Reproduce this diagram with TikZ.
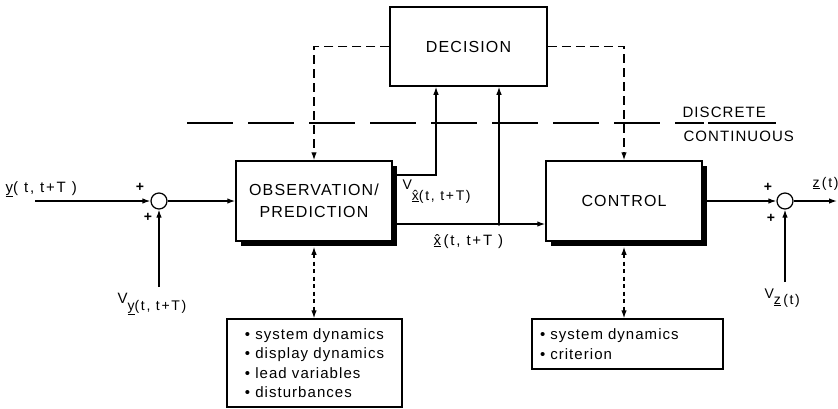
\documentclass[tikz,border=0pt]{standalone}
\usepackage{fontspec}
\setmainfont{Liberation Sans}
\newfontfamily\spfont[LetterSpace=7]{Liberation Sans}
\newfontfamily\wfont[LetterSpace=12]{Liberation Sans}
\usetikzlibrary{arrows.meta,shadows,calc}
\newcommand\xht{\ooalign{x\cr\hidewidth ˆ\hidewidth\cr}}
\begin{document}
\begin{tikzpicture}[x=1pt,y=-1pt,line width=1.25pt,
 >={Latex[length=8pt,width=5.5pt]},
 blk/.style={draw,line width=1.5pt,fill=white,minimum width=156pt,minimum height=80pt,inner sep=0pt,align=center,font=\spfont\fontsize{16}{22}\selectfont},
 shad/.style={blk,drop shadow={shadow xshift=5pt,shadow yshift=-5pt,opacity=1,fill=black}},
 sumc/.style={circle,draw,fill=white,minimum size=16pt,inner sep=0pt},
 ctrl/.style={dash pattern=on 9pt off 5pt},
 info/.style={dash pattern=on 4pt off 3.5pt},
 lbl/.style={inner sep=0pt,font=\wfont\fontsize{15}{16}\selectfont},
 sml/.style={inner sep=0pt,font=\wfont\fontsize{14}{15}\selectfont},
 pls/.style={inner sep=0pt,font=\fontsize{14}{14}\selectfont\bfseries},
 lst/.style={draw,line width=1.4pt,align=left,font=\spfont\fontsize{15}{19.5}\selectfont},
 div/.style={inner sep=0pt,font=\spfont\fontsize{15}{16}\selectfont}
]
\useasboundingbox (0,0) rectangle (838,408);

% blocks
\node[blk,minimum width=157pt,minimum height=79pt] (dec) at (468.5,46.5) {DECISION};
\node[shad] (obs) at (314,201) {OBSERVATION/\\PREDICTION};
\node[shad] (ctl) at (624,201) {CONTROL};
\node[sumc] (s1) at (159,201) {};
\node[sumc] (s2) at (785,201) {};
\node[lst,minimum width=175pt,minimum height=88pt] (b1) at (314.5,363)
  {• system dynamics\\• display dynamics\\• lead variables\\• disturbances};
\node[lst,text width=175pt,inner xsep=8pt,minimum height=50pt] (b2) at (627.5,344)
  {• system dynamics\\• criterion};

% coordinates
\coordinate (yin) at (35,201);
\coordinate (vy) at (159,287);
\coordinate (vz) at (785,282);
\coordinate (zout) at (837,201);
\coordinate (jn) at (499,224);
\coordinate (vo) at (436,175);
\coordinate (dl1) at (187,123);
\coordinate (dl2) at (704,123);
\coordinate (dl3) at (708,123);
\coordinate (dl4) at (776,123);

% signal connectors
\draw[->] (yin) -- (s1.west);
\draw[->] (vy) -- (s1.south);
\draw[->] (s1.east) -- (obs.west |- s1.east);
\draw[->] (obs.east |- jn) -- (ctl.west |- jn);
\fill (jn) circle (1.8pt);
\draw[->] (jn) -- (jn |- dec.south);
\draw[->] (obs.east |- vo) -- (vo) -- (vo |- dec.south);
\draw[->] (ctl.east) -- (s2.west);
\draw[->] (s2.east) -- (zout);
\draw[->] (vz) -- (s2.south);

% decision (dashed) connectors
\draw[->,ctrl] (dec.west) -| (obs.north);
\draw[->,ctrl] (dec.east) -| (ctl.north);

% information connectors
\draw[<->,info] ([yshift=-5pt]obs.south) -- (obs.south |- b1.north);
\draw[<->,info] ([yshift=-5pt]ctl.south) -- (ctl.south |- b2.north);

% discrete / continuous divider
\draw[dash pattern=on 46pt off 15pt] (dl1) -- (dl2);
\draw (dl3) -- (dl4);
\node[div,anchor=west] (dis) at (682,112) {DISCRETE};
\node[div,anchor=west] (con) at (683,136) {CONTINUOUS};

% labels
\node[lbl,anchor=base west] (ylab) at (5,192) {\underline{y}( t, t+T )};
\node[pls] (p1) at (140,187) {+};
\node[pls] (p2) at (148,217) {+};
\node[pls] (p3) at (768,187) {+};
\node[pls] (p4) at (771,218) {+};
\node[lbl,anchor=base west] (vylab) at (117,303)
  {V\raisebox{-7pt}{\fontsize{14}{15}\selectfont\underline{y}(t, t+T)}};
\node[sml,anchor=base west] (vxlab) at (402,189)
  {V\raisebox{-11pt}{\underline{\xht}(t, t+T)}};
\node[lbl,anchor=base west] (xlab) at (433,245) {\underline{\xht}\,(t, t+T )};
\node[sml,anchor=base west] (zlab) at (812,187) {\underline{z}\,(t)};
\node[sml,anchor=base west] (vzlab) at (764,298)
  {V\raisebox{-6pt}{\underline{z}\,(t)}};
\end{tikzpicture}
\end{document}
